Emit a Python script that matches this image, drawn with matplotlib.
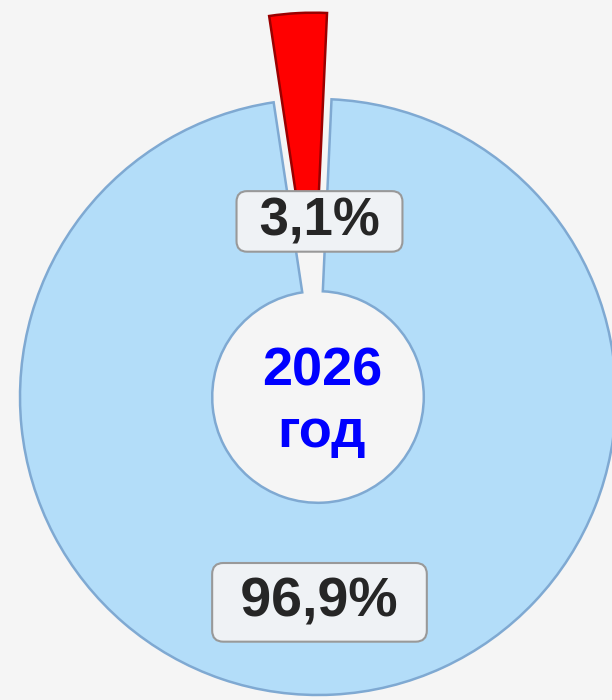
import numpy as np
import matplotlib
matplotlib.use('Agg')
import matplotlib.pyplot as plt

plt.rcParams['font.family'] = ['Liberation Sans', 'DejaVu Sans']

# data
categories = ['основная часть', 'доля']
shares = [96.9, 3.1]
colors = ['#b3ddf9', '#ff0000']
edge_colors = ['#7fa9d2', '#9a0000']
explode = [0.0, 0.29]
center_title = ['2026', 'год']

start_angle = 87.4
hole = 0.355

fig = plt.figure(figsize=(6.12, 7.0), dpi=100)
fig.patch.set_facecolor('#f5f5f5')
ax = fig.add_axes([0, 0, 1, 1])
ax.set_facecolor('#f5f5f5')

wedges, _ = ax.pie(shares, colors=colors, startangle=start_angle,
                   counterclock=False, explode=explode, radius=1.0,
                   wedgeprops=dict(width=1 - hole, linewidth=1.8))
for w, ec in zip(wedges, edge_colors):
    w.set_edgecolor(ec)

# label positions: height taken along each wedge's middle angle
label_dist = [0.69, 0.30]
font_sizes = [40, 38]
pads = [' ', '\u2004']
box_pad = [0.24, 0.1]
theta = start_angle
for val, expl, dist, fs, sp, bp in zip(shares, explode, label_dist,
                                      font_sizes, pads, box_pad):
    span = 360 * val / sum(shares)
    mid = np.deg2rad(theta - span / 2)
    theta -= span
    r = expl + dist
    ax.text(0.005, r * np.sin(mid),
            sp + f'{val:.1f}'.replace('.', ',') + '%' + sp,
            ha='center', va='center', fontsize=fs, fontweight='bold',
            color='#262626',
            bbox=dict(boxstyle=f'round,pad={bp},rounding_size=0.2',
                      fc='#eff2f5', ec='#999999', lw=1.5))

ax.text(0.013, 0.040, center_title[0], ha='center', va='baseline',
        fontsize=39, fontweight='bold', color='#0000ff')
ax.text(0.013, -0.168, center_title[1], ha='center', va='baseline',
        fontsize=39, fontweight='bold', color='#0000ff')

ax.set_xlim(-318 / 298, (612 - 318) / 298)
ax.set_ylim(-(700 - 397) / 298, 397 / 298)
ax.set_aspect('auto')
ax.axis('off')

fig.savefig('out.png', dpi=100, facecolor=fig.get_facecolor())
